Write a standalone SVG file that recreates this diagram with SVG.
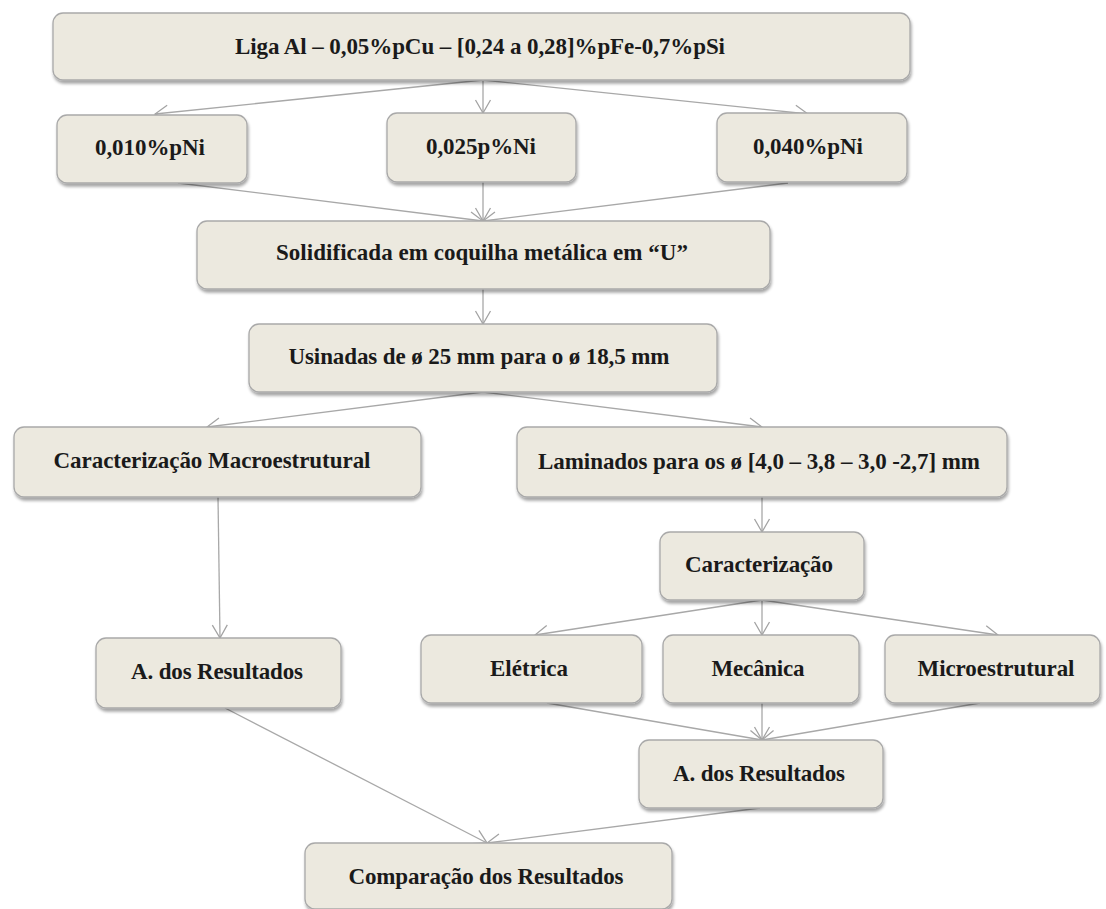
<svg xmlns="http://www.w3.org/2000/svg" width="1106" height="909" viewBox="0 0 1106 909">
  <defs>
    <filter id="sh" x="-10%" y="-20%" width="120%" height="150%">
      <feDropShadow dx="1" dy="3" stdDeviation="1.8" flood-color="#000" flood-opacity="0.35"/>
    </filter>
    <marker id="ah" markerUnits="userSpaceOnUse" markerWidth="16" markerHeight="18" viewBox="0 0 16 18" refX="14" refY="9" orient="auto">
      <path d="M1,1.5 L14,9 L1,16.5" fill="none" stroke="#a3a3a3" stroke-width="1.3"/>
    </marker>
    <style>
      .box { fill: #ece9df; stroke: #a9a9a9; stroke-width: 1.3; filter: url(#sh); }
      .t { font-family: "Liberation Serif", "Times New Roman", serif; font-weight: bold; font-size: 23px; fill: #1a1a1a; text-anchor: middle; }
      .c { fill: none; stroke: #a8a8a8; stroke-width: 1.3; marker-end: url(#ah); }
    </style>
  </defs>
  <rect width="1106" height="909" fill="#ffffff"/>

  <g id="connectors">
    <line class="c" x1="483" y1="80" x2="155" y2="114"/>
    <line class="c" x1="483" y1="80" x2="483" y2="113"/>
    <line class="c" x1="483" y1="80" x2="808" y2="114"/>
    <line class="c" x1="178" y1="183" x2="483" y2="221"/>
    <line class="c" x1="483" y1="182" x2="483" y2="221"/>
    <line class="c" x1="788" y1="183" x2="483" y2="221"/>
    <line class="c" x1="483" y1="289" x2="483" y2="324"/>
    <line class="c" x1="483" y1="392" x2="207" y2="427"/>
    <line class="c" x1="483" y1="392" x2="762" y2="427"/>
    <line class="c" x1="218" y1="497" x2="220" y2="638"/>
    <line class="c" x1="762" y1="497" x2="762" y2="532"/>
    <line class="c" x1="762" y1="600" x2="535" y2="635"/>
    <line class="c" x1="762" y1="600" x2="762" y2="635"/>
    <line class="c" x1="762" y1="600" x2="998" y2="635"/>
    <line class="c" x1="547" y1="703" x2="762" y2="740"/>
    <line class="c" x1="762" y1="703" x2="762" y2="740"/>
    <line class="c" x1="980" y1="703" x2="762" y2="740"/>
    <line class="c" x1="225" y1="708" x2="487" y2="843"/>
    <line class="c" x1="760" y1="808" x2="487" y2="843"/>
  </g>

  <g id="liga">
    <rect class="box" x="53" y="13" width="857" height="67" rx="10"/>
    <text class="t" x="480" y="54" textLength="490" lengthAdjust="spacing">Liga Al – 0,05%pCu – [0,24 a 0,28]%pFe-0,7%pSi</text>
  </g>
  <g id="ni010">
    <rect class="box" x="57" y="115" width="190" height="68" rx="10"/>
    <text class="t" x="150" y="155" textLength="110" lengthAdjust="spacing">0,010%pNi</text>
  </g>
  <g id="ni025">
    <rect class="box" x="387" y="113" width="189" height="69" rx="10"/>
    <text class="t" x="481" y="154" textLength="110" lengthAdjust="spacing">0,025p%Ni</text>
  </g>
  <g id="ni040">
    <rect class="box" x="717" y="113" width="190" height="69" rx="10"/>
    <text class="t" x="808" y="154" textLength="110" lengthAdjust="spacing">0,040%pNi</text>
  </g>
  <g id="solidificada">
    <rect class="box" x="197" y="221" width="573" height="68" rx="10"/>
    <text class="t" x="482" y="260" textLength="412" lengthAdjust="spacing">Solidificada em coquilha metálica em “U”</text>
  </g>
  <g id="usinadas">
    <rect class="box" x="249" y="324" width="468" height="68" rx="10"/>
    <text class="t" x="479" y="364" textLength="381" lengthAdjust="spacing">Usinadas de ø 25 mm para o ø 18,5 mm</text>
  </g>
  <g id="macro">
    <rect class="box" x="14" y="427" width="407" height="70" rx="10"/>
    <text class="t" x="212" y="468" textLength="317" lengthAdjust="spacing">Caracterização Macroestrutural</text>
  </g>
  <g id="laminados">
    <rect class="box" x="517" y="427" width="490" height="70" rx="10"/>
    <text class="t" x="759" y="469" textLength="442" lengthAdjust="spacing">Laminados para os ø [4,0 – 3,8 – 3,0 -2,7] mm</text>
  </g>
  <g id="caracterizacao">
    <rect class="box" x="660" y="532" width="204" height="68" rx="10"/>
    <text class="t" x="759" y="572" textLength="148" lengthAdjust="spacing">Caracterização</text>
  </g>
  <g id="eletrica">
    <rect class="box" x="421" y="635" width="221" height="68" rx="10"/>
    <text class="t" x="529" y="676" textLength="78" lengthAdjust="spacing">Elétrica</text>
  </g>
  <g id="mecanica">
    <rect class="box" x="663" y="635" width="196" height="68" rx="10"/>
    <text class="t" x="758" y="676" textLength="93" lengthAdjust="spacing">Mecânica</text>
  </g>
  <g id="microestrutural">
    <rect class="box" x="885" y="635" width="215" height="68" rx="10"/>
    <text class="t" x="996" y="676" textLength="157" lengthAdjust="spacing">Microestrutural</text>
  </g>
  <g id="resultados-esq">
    <rect class="box" x="96" y="638" width="245" height="70" rx="10"/>
    <text class="t" x="217" y="679" textLength="172" lengthAdjust="spacing">A. dos Resultados</text>
  </g>
  <g id="resultados-dir">
    <rect class="box" x="639" y="740" width="244" height="68" rx="10"/>
    <text class="t" x="759" y="781" textLength="172" lengthAdjust="spacing">A. dos Resultados</text>
  </g>
  <g id="comparacao">
    <rect class="box" x="305" y="843" width="367" height="66" rx="10"/>
    <text class="t" x="486" y="884" textLength="275" lengthAdjust="spacing">Comparação dos Resultados</text>
  </g>
</svg>
